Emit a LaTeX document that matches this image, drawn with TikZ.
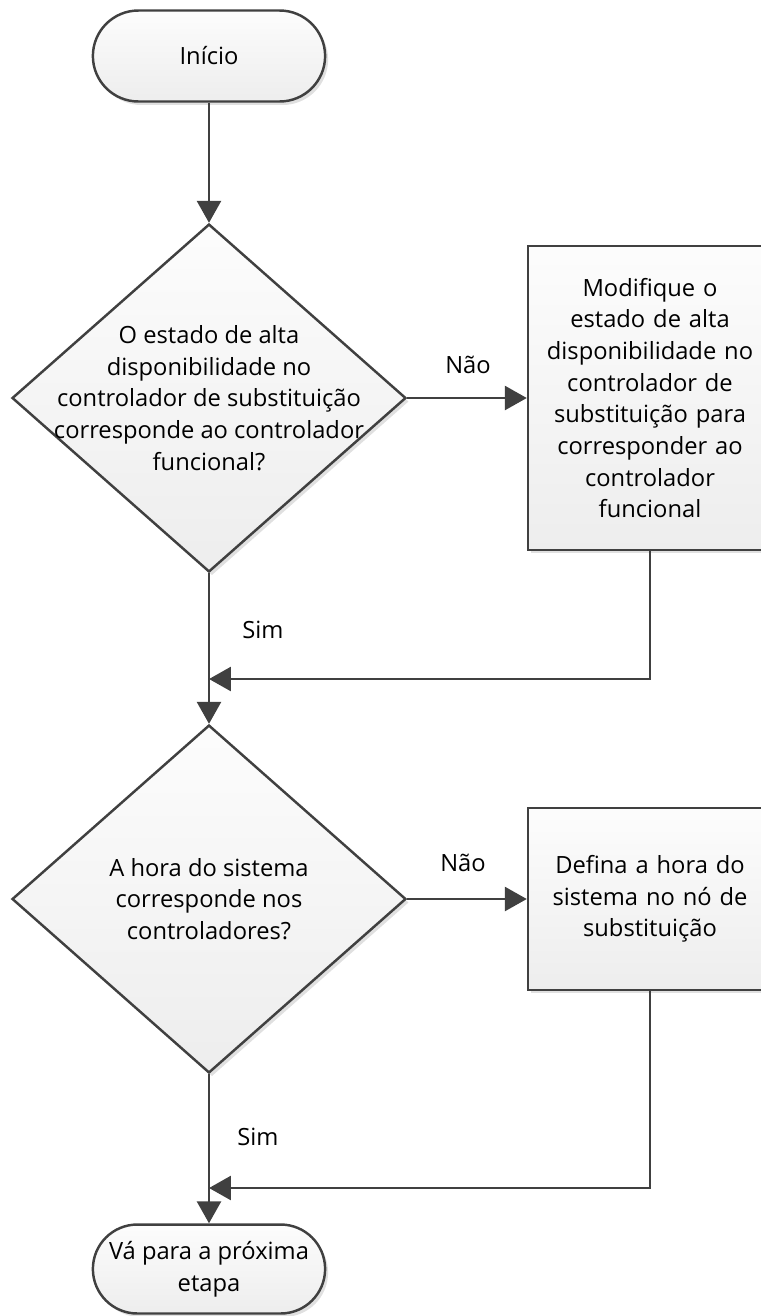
\documentclass[tikz,border=0pt]{standalone}
\usepackage{fontspec}
\setmainfont{Open Sans}
\usetikzlibrary{shapes.geometric, shapes.misc, arrows.meta, shadows}

\definecolor{linegray}{HTML}{404040}

\tikzset{
  shape base/.style={draw=linegray, line width=1.4pt, top color=gray!2, bottom color=gray!14,
    drop shadow={shadow xshift=0.06cm, shadow yshift=-0.07cm, fill=black, opacity=0.12}},
  chart font/.style={font=\fontsize{13.5pt}{18pt}\selectfont},
  terminal/.style={shape base, chart font, rounded rectangle, minimum width=4.88cm, align=center},
  decision/.style={shape base, diamond, minimum width=7.88cm, minimum height=6.96cm, inner sep=0pt},
  process/.style={shape base, chart font, rectangle, minimum width=4.88cm, text width=4.4cm, align=center},
  question/.style={chart font, align=center},
  answer/.style={chart font},
  flow/.style={draw=linegray, line width=1.6pt, -{Triangle[length=0.44cm, width=0.48cm]}}
}

\begin{document}
\begin{tikzpicture}[x=0.02cm, y=-0.02cm]

\useasboundingbox (0,0) rectangle (761,1316);

% Start
\node[terminal, minimum height=1.82cm] (start) at (209,56) {Início};

% First question
\node[decision] (q1) at (209,398) {};
\node[question] (q1text) at (q1.center) {O estado de alta\\disponibilidade no\\controlador de substituição\\corresponde ao controlador\\funcional?};

% Fix high availability state
\node[process, minimum height=6.08cm] (fix1) at (650,398) {Modifique o\\estado de alta\\disponibilidade no\\controlador de\\substituição para\\corresponder ao\\controlador\\funcional};

% Second question
\node[decision] (q2) at (209,899) {};
\node[question] (q2text) at (q2.center) {A hora do sistema\\corresponde nos\\controladores?};

% Fix system time
\node[process, minimum height=3.64cm] (fix2) at (650,899) {Defina a hora do\\sistema no nó de\\substituição};

% End
\node[terminal, minimum height=1.78cm] (finish) at (209,1269) {Vá para a próxima\\etapa};

% Merge points
\coordinate (m1) at (209,679);
\coordinate (m2) at (209,1188);

% Connectors
\draw[flow] (start.south) -- (q1.north);
\draw[flow] (q1.east) -- (fix1.west);
\draw[flow] (fix1.south) |- (m1);
\draw[flow] (q1.south) -- (q2.north);
\draw[flow] (q2.east) -- (fix2.west);
\draw[flow] (fix2.south) |- (m2);
\draw[flow] (q2.south) -- (finish.north);

% Labels
\node[answer] (no1) at (468,365) {Não};
\node[answer] (yes1) at (263,630) {Sim};
\node[answer] (no2) at (463,863) {Não};
\node[answer] (yes2) at (258,1137) {Sim};

\end{tikzpicture}
\end{document}
